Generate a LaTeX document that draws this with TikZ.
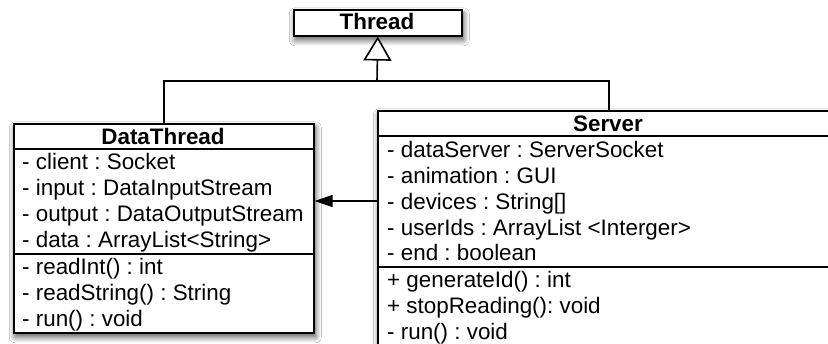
\documentclass[tikz,border=0pt]{standalone}
\usepackage{fontspec}
\setmainfont{Liberation Sans}
\usetikzlibrary{arrows.meta,shadows.blur}
\frenchspacing

\begin{document}
\begin{tikzpicture}[x=1pt,y=-1pt,
  classbox/.style={draw, line width=1.6pt, fill=white, inner sep=0pt,
    blur shadow={shadow xshift=1.5pt, shadow yshift=-4pt,
      shadow blur radius=6pt, shadow blur steps=10, shadow opacity=70}},
  sep/.style={line width=1.6pt},
  member/.style={anchor=base west, inner sep=0pt},
  title/.style={anchor=base, inner sep=0pt, font=\fontsize{22.4}{26}\selectfont\bfseries},
  link/.style={line width=1.6pt},
  every node/.append style={font=\fontsize{22.4}{26}\selectfont\frenchspacing}]

\clip (0,0) rectangle (828,344);
\fill[white] (0,0) rectangle (828,344);

% class boxes
\node[classbox, minimum width=168pt, minimum height=26pt, anchor=north west] (thread) at (293,9) {};
\node[classbox, minimum width=300pt, minimum height=209pt, anchor=north west] (dt) at (13,123) {};
\node[classbox, minimum width=462pt, minimum height=260pt, anchor=north west] (srv) at (377,110) {};

% compartments
\draw[sep] (dt.north west) ++(0,26) -- ++(300,0);
\draw[sep] (dt.north west) ++(0,131) -- ++(300,0);
\draw[sep] (srv.north west) ++(0,26) -- ++(462,0);
\draw[sep] (srv.north west) ++(0,157) -- ++(462,0);

% titles
\node[title] (threadT) at (377,30) {Thread};
\node[title] (dtT) at (163,145) {DataThread};
\node[title] (srvT) at (608,132) {Server};

% DataThread members
\node[member] (dt1) at (22,170) {- client : Socket};
\node[member] (dt2) at (22,196) {- input : DataInputStream};
\node[member] (dt3) at (22,222) {- output : DataOutputStream};
\node[member] (dt4) at (22,248) {- data : ArrayList<String>};
\node[member] (dt5) at (22,275) {- readInt() : int};
\node[member] (dt6) at (22,301) {- readString() : String};
\node[member] (dt7) at (22,327) {- run() : void};

% Server members
\node[member] (s1) at (387,158) {- dataServer : ServerSocket};
\node[member] (s2) at (387,184) {- animation : GUI};
\node[member] (s3) at (387,209.5) {- devices : String[]};
\node[member] (s4) at (387,235.5) {- userIds : ArrayList <Interger>};
\node[member] (s5) at (387,261) {- end : boolean};
\node[member] (s6) at (387,288) {+ generateId() : int};
\node[member] (s7) at (387,314) {+ stopReading(): void};
\node[member] (s8) at (387,340) {- run() : void};

% generalization
\coordinate (junc) at (377,81);
\draw[link] (dt.north) |- (junc) -| (srv.north);
\draw[link, -{Triangle[open, length=24pt, width=28pt, line width=1.6pt, fill=white]}]
  (junc) -- (thread.south);

% association
\coordinate (assoc) at (0,201);
\draw[link, -{Triangle[length=18pt, width=12pt]}] (srv.west |- assoc) -- (dt.east |- assoc);
\end{tikzpicture}
\end{document}
